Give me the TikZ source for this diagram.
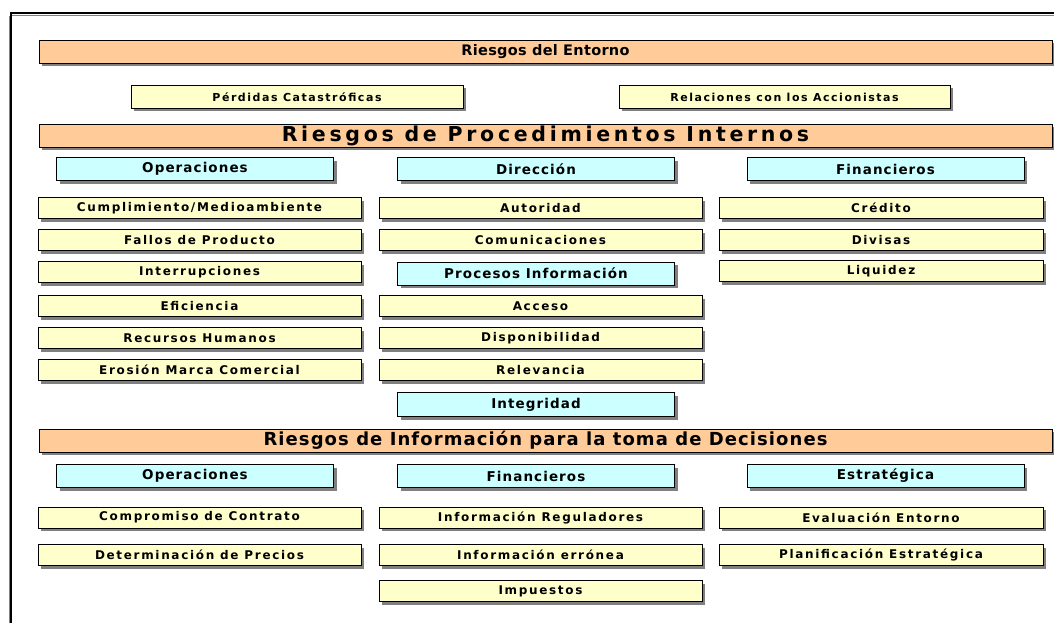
\documentclass[tikz,border=0pt]{standalone}
\usepackage{fontspec}
\usetikzlibrary{shadows}
\newfontfamily\yfont[LetterSpace=14]{DejaVu Sans}
\newfontfamily\cfont[LetterSpace=8]{DejaVu Sans}
\newfontfamily\tfont[LetterSpace=6]{DejaVu Sans}
\newfontfamily\pfont[LetterSpace=18]{DejaVu Sans}
\newfontfamily\efont[LetterSpace=2]{DejaVu Sans}
\definecolor{orangeC}{HTML}{FFCC99}
\definecolor{yellowC}{HTML}{FFFFCC}
\definecolor{cyanC}{HTML}{CCFFFF}
\definecolor{shadC}{HTML}{808080}
\tikzset{
  box/.style={draw=black, line width=0.9pt, inner sep=0pt, text=black,
    drop shadow={shadow xshift=3pt, shadow yshift=-3pt, fill=shadC, opacity=1}},
  bigbar/.style={box, fill=orangeC, minimum width=1013pt, minimum height=23pt,
    font=\tfont\bfseries\fontsize{18}{20}\selectfont},
  cbox/.style={box, fill=cyanC, minimum width=277pt, minimum height=23pt,
    font=\cfont\bfseries\fontsize{13.5}{15}\selectfont},
  ybox/.style={box, fill=yellowC, minimum width=323pt, minimum height=21pt,
    font=\yfont\bfseries\fontsize{12}{14}\selectfont},
}
\begin{document}
\begin{tikzpicture}[x=1pt,y=-1pt]
\useasboundingbox (0,0) rectangle (1054,623);
% frame
\draw[shadC, line width=1.4pt] (9.3,625) -- (9.3,15.6) (10,15.6) -- (1056,15.6);
\draw[black, line width=1.7pt] (11,625) -- (11,13) -- (1056,13);
% section 1
\node[bigbar, font=\efont\bfseries\fontsize{14.5}{16}\selectfont] (entorno) at (545.5,51.5) {Riesgos del Entorno};
\node[ybox, minimum width=332pt, minimum height=23pt, font=\yfont\bfseries\fontsize{11}{13}\selectfont] (perdidas) at (297,97) {Pérdidas Catastróficas};
\node[ybox, minimum width=331pt, minimum height=23pt, font=\yfont\bfseries\fontsize{11}{13}\selectfont] (relaciones) at (784.5,97) {Relaciones con los Accionistas};
% section 2
\node[bigbar, font=\pfont\bfseries\fontsize{20.5}{22}\selectfont] (procint) at (545.5,135.5) {Riesgos de Procedimientos Internos};
\node[cbox] (oper1) at (195,169) {Operaciones};
\node[cbox] (direc) at (536,169) {Dirección};
\node[cbox] (fin1) at (885.5,169) {Financieros};
\node[ybox] (cumpl) at (199.5,208) {Cumplimiento/Medioambiente};
\node[ybox] (fallos) at (199.5,240) {Fallos de Producto};
\node[ybox] (interr) at (199.5,272) {Interrupciones};
\node[ybox] (efic) at (199.5,306) {Eficiencia};
\node[ybox] (rrhh) at (199.5,338) {Recursos Humanos};
\node[ybox] (erosion) at (199.5,370) {Erosión Marca Comercial};
\node[ybox] (autor) at (540.5,208) {Autoridad};
\node[ybox] (comun) at (540.5,240) {Comunicaciones};
\node[cbox] (procinf) at (536,273.5) {Procesos Información};
\node[ybox] (acceso) at (540.5,306) {Acceso};
\node[ybox] (dispon) at (540.5,338) {Disponibilidad};
\node[ybox] (relev) at (540.5,370) {Relevancia};
\node[cbox, minimum height=24pt] (integr) at (536,404.5) {Integridad};
\node[ybox, minimum width=324pt] (credito) at (881,208) {Crédito};
\node[ybox, minimum width=324pt] (divisas) at (881,240) {Divisas};
\node[ybox, minimum width=324pt] (liquidez) at (881,271) {Liquidez};
% section 3
\node[bigbar] (infodec) at (545.5,440.5) {Riesgos de Información para la toma de Decisiones};
\node[cbox] (oper2) at (195,476) {Operaciones};
\node[cbox] (fin2) at (536,476) {Financieros};
\node[cbox] (estrat) at (885.5,476) {Estratégica};
\node[ybox] (compr) at (199.5,517.5) {Compromiso de Contrato};
\node[ybox] (determ) at (199.5,555) {Determinación de Precios};
\node[ybox] (inforeg) at (540.5,517.5) {Información Reguladores};
\node[ybox] (infoerr) at (540.5,555) {Información errónea};
\node[ybox] (impuestos) at (540.5,591) {Impuestos};
\node[ybox, minimum width=324pt] (evalent) at (881,517.5) {Evaluación Entorno};
\node[ybox, minimum width=324pt] (planif) at (881,555) {Planificación Estratégica};
\end{tikzpicture}
\end{document}
